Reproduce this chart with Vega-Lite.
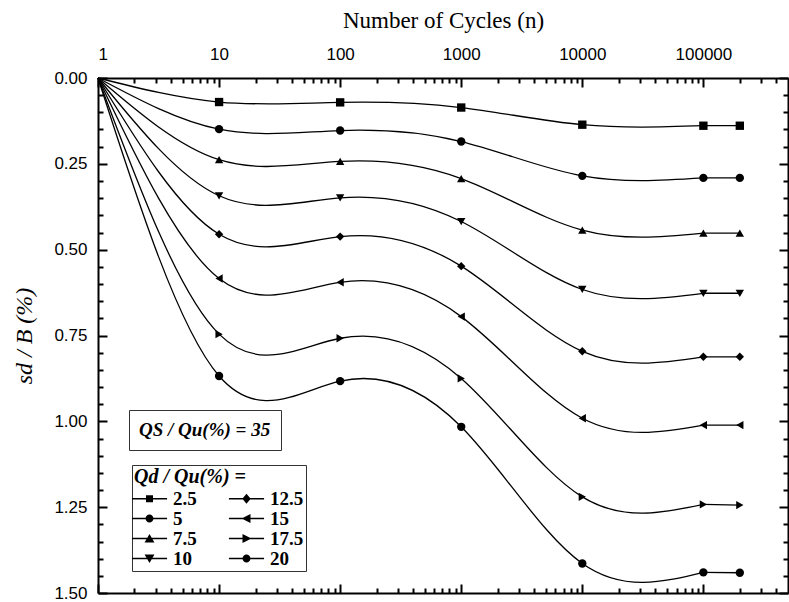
{
  "$schema": "https://vega.github.io/schema/vega-lite/v6.json",
  "width": 690,
  "height": 515,
  "autosize": {"type": "none"},
  "padding": {"left": 98, "top": 78, "right": 1, "bottom": 9},
  "background": "white",
  "config": {
    "view": {"stroke": null},
    "axis": {
      "grid": false,
      "domainColor": "black",
      "domainWidth": 2,
      "tickColor": "black",
      "tickWidth": 2,
      "labelFont": "Liberation Sans",
      "labelFontSize": 17,
      "labelColor": "black",
      "titleFont": "Liberation Serif",
      "titleFontWeight": "normal",
      "titleColor": "black"
    }
  },
  "data": {
    "values": [
      {"n": 1, "s": 0, "series": "2.5"},
      {"n": 10, "s": 0.07, "series": "2.5"},
      {"n": 100, "s": 0.071, "series": "2.5"},
      {"n": 1000, "s": 0.086, "series": "2.5"},
      {"n": 10000, "s": 0.136, "series": "2.5"},
      {"n": 100000, "s": 0.139, "series": "2.5"},
      {"n": 200000, "s": 0.139, "series": "2.5"},
      {"n": 1, "s": 0, "series": "5"},
      {"n": 10, "s": 0.149, "series": "5"},
      {"n": 100, "s": 0.153, "series": "5"},
      {"n": 1000, "s": 0.185, "series": "5"},
      {"n": 10000, "s": 0.285, "series": "5"},
      {"n": 100000, "s": 0.291, "series": "5"},
      {"n": 200000, "s": 0.291, "series": "5"},
      {"n": 1, "s": 0, "series": "7.5"},
      {"n": 10, "s": 0.238, "series": "7.5"},
      {"n": 100, "s": 0.243, "series": "7.5"},
      {"n": 1000, "s": 0.293, "series": "7.5"},
      {"n": 10000, "s": 0.443, "series": "7.5"},
      {"n": 100000, "s": 0.452, "series": "7.5"},
      {"n": 200000, "s": 0.452, "series": "7.5"},
      {"n": 1, "s": 0, "series": "10"},
      {"n": 10, "s": 0.343, "series": "10"},
      {"n": 100, "s": 0.349, "series": "10"},
      {"n": 1000, "s": 0.418, "series": "10"},
      {"n": 10000, "s": 0.616, "series": "10"},
      {"n": 100000, "s": 0.627, "series": "10"},
      {"n": 200000, "s": 0.627, "series": "10"},
      {"n": 1, "s": 0, "series": "12.5"},
      {"n": 10, "s": 0.455, "series": "12.5"},
      {"n": 100, "s": 0.462, "series": "12.5"},
      {"n": 1000, "s": 0.548, "series": "12.5"},
      {"n": 10000, "s": 0.796, "series": "12.5"},
      {"n": 100000, "s": 0.812, "series": "12.5"},
      {"n": 200000, "s": 0.812, "series": "12.5"},
      {"n": 1, "s": 0, "series": "15"},
      {"n": 10, "s": 0.584, "series": "15"},
      {"n": 100, "s": 0.595, "series": "15"},
      {"n": 1000, "s": 0.695, "series": "15"},
      {"n": 10000, "s": 0.991, "series": "15"},
      {"n": 100000, "s": 1.011, "series": "15"},
      {"n": 200000, "s": 1.011, "series": "15"},
      {"n": 1, "s": 0, "series": "17.5"},
      {"n": 10, "s": 0.746, "series": "17.5"},
      {"n": 100, "s": 0.758, "series": "17.5"},
      {"n": 1000, "s": 0.875, "series": "17.5"},
      {"n": 10000, "s": 1.22, "series": "17.5"},
      {"n": 100000, "s": 1.242, "series": "17.5"},
      {"n": 200000, "s": 1.244, "series": "17.5"},
      {"n": 1, "s": 0, "series": "20"},
      {"n": 10, "s": 0.868, "series": "20"},
      {"n": 100, "s": 0.883, "series": "20"},
      {"n": 1000, "s": 1.016, "series": "20"},
      {"n": 10000, "s": 1.414, "series": "20"},
      {"n": 100000, "s": 1.44, "series": "20"},
      {"n": 200000, "s": 1.441, "series": "20"}
    ]
  },
  "layer": [
    {
      "transform": [{"filter": "datum.n <= 100000"}],
      "mark": {"type": "line", "interpolate": "natural", "strokeWidth": 1.3},
      "encoding": {
        "x": {
          "field": "n", "type": "quantitative",
          "scale": {"type": "log", "domain": [1, 500000], "nice": false},
          "axis": {
            "orient": "top",
            "values": [1, 10, 100, 1000, 10000, 100000],
            "format": "d",
            "tickSize": -9,
            "labelPadding": 24,
            "title": "Number of Cycles (n)",
            "titleFontSize": 23,
            "titlePadding": 13
          }
        },
        "y": {
          "field": "s", "type": "quantitative",
          "scale": {"domain": [0, 1.5], "reverse": true, "nice": false, "zero": false},
          "axis": {
            "orient": "left",
            "values": [0, 0.25, 0.5, 0.75, 1, 1.25, 1.5],
            "format": ".2f",
            "tickSize": -9,
            "labelPadding": 20,
            "title": "sd / B (%)",
            "titleFontSize": 24,
            "titleFontStyle": "italic",
            "titlePadding": 17
          }
        },
        "detail": {"field": "series", "type": "nominal"},
        "color": {
          "datum": "QS / Qu(%) = 35",
          "type": "nominal",
          "scale": {"range": ["black"]},
          "legend": {
            "orient": "none",
            "legendX": 31,
            "legendY": 332,
            "title": null,
            "symbolType": "circle",
            "symbolSize": 1,
            "symbolOpacity": 0,
            "symbolStrokeWidth": 0,
            "labelOffset": -19,
            "padding": 10,
            "strokeColor": "#333",
            "labelFont": "Liberation Serif",
            "labelFontStyle": "italic",
            "labelFontWeight": "bold",
            "labelFontSize": 19,
            "labelColor": "black",
            "labelLimit": 0
          }
        }
      }
    },
    {
      "transform": [{"filter": "datum.n >= 100000"}],
      "mark": {"type": "line", "interpolate": "linear", "strokeWidth": 1.3, "color": "black"},
      "encoding": {
        "x": {
          "field": "n", "type": "quantitative",
          "scale": {"type": "log", "domain": [1, 500000], "nice": false},
          "axis": null
        },
        "y": {
          "field": "s", "type": "quantitative",
          "scale": {"domain": [0, 1.5], "reverse": true, "nice": false, "zero": false},
          "axis": null
        },
        "detail": {"field": "series", "type": "nominal"}
      }
    },
    {
      "transform": [{"filter": "datum.n > 1"}],
      "mark": {"type": "point", "filled": true, "color": "black", "opacity": 1, "size": 70},
      "encoding": {
        "x": {
          "field": "n", "type": "quantitative",
          "scale": {"type": "log", "domain": [1, 500000], "nice": false},
          "axis": {
            "orient": "top",
            "values": [2, 3, 4, 5, 6, 7, 8, 9, 20, 30, 40, 50, 60, 70, 80, 90, 200, 300, 400, 500, 600, 700, 800, 900, 2000, 3000, 4000, 5000, 6000, 7000, 8000, 9000, 20000, 30000, 40000, 50000, 60000, 70000, 80000, 90000, 200000, 300000, 400000],
            "labels": false, "domain": false, "tickSize": -5, "title": null
          }
        },
        "y": {
          "field": "s", "type": "quantitative",
          "scale": {"domain": [0, 1.5], "reverse": true, "nice": false, "zero": false},
          "axis": {
            "orient": "left",
            "values": [0.05, 0.1, 0.15, 0.2, 0.3, 0.35, 0.4, 0.45, 0.55, 0.6, 0.65, 0.7, 0.8, 0.85, 0.9, 0.95, 1.05, 1.1, 1.15, 1.2, 1.3, 1.35, 1.4, 1.45],
            "labels": false, "domain": false, "tickSize": -5, "title": null
          }
        },
        "shape": {
          "field": "series", "type": "nominal",
          "scale": {
            "domain": ["2.5", "5", "7.5", "10", "12.5", "15", "17.5", "20"],
            "range": ["square", "circle", "triangle-up", "triangle-down", "diamond", "triangle-left", "triangle-right", "circle"]
          },
          "legend": null
        }
      }
    },
    {
      "mark": {"type": "point", "filled": true, "color": "black", "opacity": 0},
      "encoding": {
        "x": {
          "field": "n", "type": "quantitative",
          "scale": {"type": "log", "domain": [1, 500000], "nice": false},
          "axis": {
            "orient": "bottom",
            "values": [1, 10, 100, 1000, 10000, 100000],
            "labels": false, "tickSize": -9, "title": null
          }
        },
        "y": {
          "field": "s", "type": "quantitative",
          "scale": {"domain": [0, 1.5], "reverse": true, "nice": false, "zero": false},
          "axis": {
            "orient": "right",
            "values": [0, 0.25, 0.5, 0.75, 1, 1.25, 1.5],
            "labels": false, "tickSize": -9, "title": null
          }
        },
        "shape": {
          "field": "series", "type": "nominal",
          "scale": {
            "domain": ["2.5", "5", "7.5", "10", "12.5", "15", "17.5", "20"],
            "range": [
              "M-1.85,-0.07H1.85V0.07H-1.85ZM-0.37,-0.37H0.37V0.37H-0.37Z",
              "M-1.85,-0.07H1.85V0.07H-1.85ZM-0.42,0A0.42,0.42,0,1,1,0.42,0A0.42,0.42,0,1,1,-0.42,0Z",
              "M-1.85,-0.07H1.85V0.07H-1.85ZM0,-0.47L0.52,0.42H-0.52Z",
              "M-1.85,-0.07H1.85V0.07H-1.85ZM0,0.47L-0.52,-0.42H0.52Z",
              "M-1.85,-0.07H1.85V0.07H-1.85ZM0,-0.52L0.44,0L0,0.52L-0.44,0Z",
              "M-1.85,-0.07H1.85V0.07H-1.85ZM-0.52,0L0.42,-0.47V0.47Z",
              "M-1.85,-0.07H1.85V0.07H-1.85ZM0.52,0L-0.42,0.47V-0.47Z",
              "M-1.85,-0.07H1.85V0.07H-1.85ZM-0.42,0A0.42,0.42,0,1,1,0.42,0A0.42,0.42,0,1,1,-0.42,0Z"
            ]
          },
          "legend": {
            "orient": "none",
            "legendX": 34,
            "legendY": 387,
            "columns": 2,
            "title": "Qd / Qu(%) =",
            "titleFont": "Liberation Serif",
            "titleFontStyle": "italic",
            "titleFontWeight": "bold",
            "titleFontSize": 20,
            "titleColor": "black",
            "titlePadding": 2,
            "symbolSize": 361,
            "symbolStrokeWidth": 0,
            "symbolFillColor": "black",
            "symbolStrokeColor": "black",
            "symbolOpacity": 1,
            "symbolOffset": 6,
            "labelOffset": 14,
            "labelFont": "Liberation Serif",
            "labelFontWeight": "bold",
            "labelFontSize": 19,
            "labelColor": "black",
            "padding": 2,
            "rowPadding": 0,
            "columnPadding": 31,
            "strokeColor": "#333"
          }
        }
      }
    },
    {
      "mark": {"type": "point", "opacity": 0},
      "encoding": {
        "x": {
          "field": "n", "type": "quantitative",
          "scale": {"type": "log", "domain": [1, 500000], "nice": false},
          "axis": {
            "orient": "bottom",
            "values": [2, 3, 4, 5, 6, 7, 8, 9, 20, 30, 40, 50, 60, 70, 80, 90, 200, 300, 400, 500, 600, 700, 800, 900, 2000, 3000, 4000, 5000, 6000, 7000, 8000, 9000, 20000, 30000, 40000, 50000, 60000, 70000, 80000, 90000, 200000, 300000, 400000],
            "labels": false, "domain": false, "tickSize": -5, "title": null
          }
        },
        "y": {
          "field": "s", "type": "quantitative",
          "scale": {"domain": [0, 1.5], "reverse": true, "nice": false, "zero": false},
          "axis": {
            "orient": "right",
            "values": [0.05, 0.1, 0.15, 0.2, 0.3, 0.35, 0.4, 0.45, 0.55, 0.6, 0.65, 0.7, 0.8, 0.85, 0.9, 0.95, 1.05, 1.1, 1.15, 1.2, 1.3, 1.35, 1.4, 1.45],
            "labels": false, "domain": false, "tickSize": -5, "title": null
          }
        }
      }
    }
  ],
  "resolve": {
    "scale": {"shape": "independent"},
    "axis": {"x": "independent", "y": "independent"}
  }
}
